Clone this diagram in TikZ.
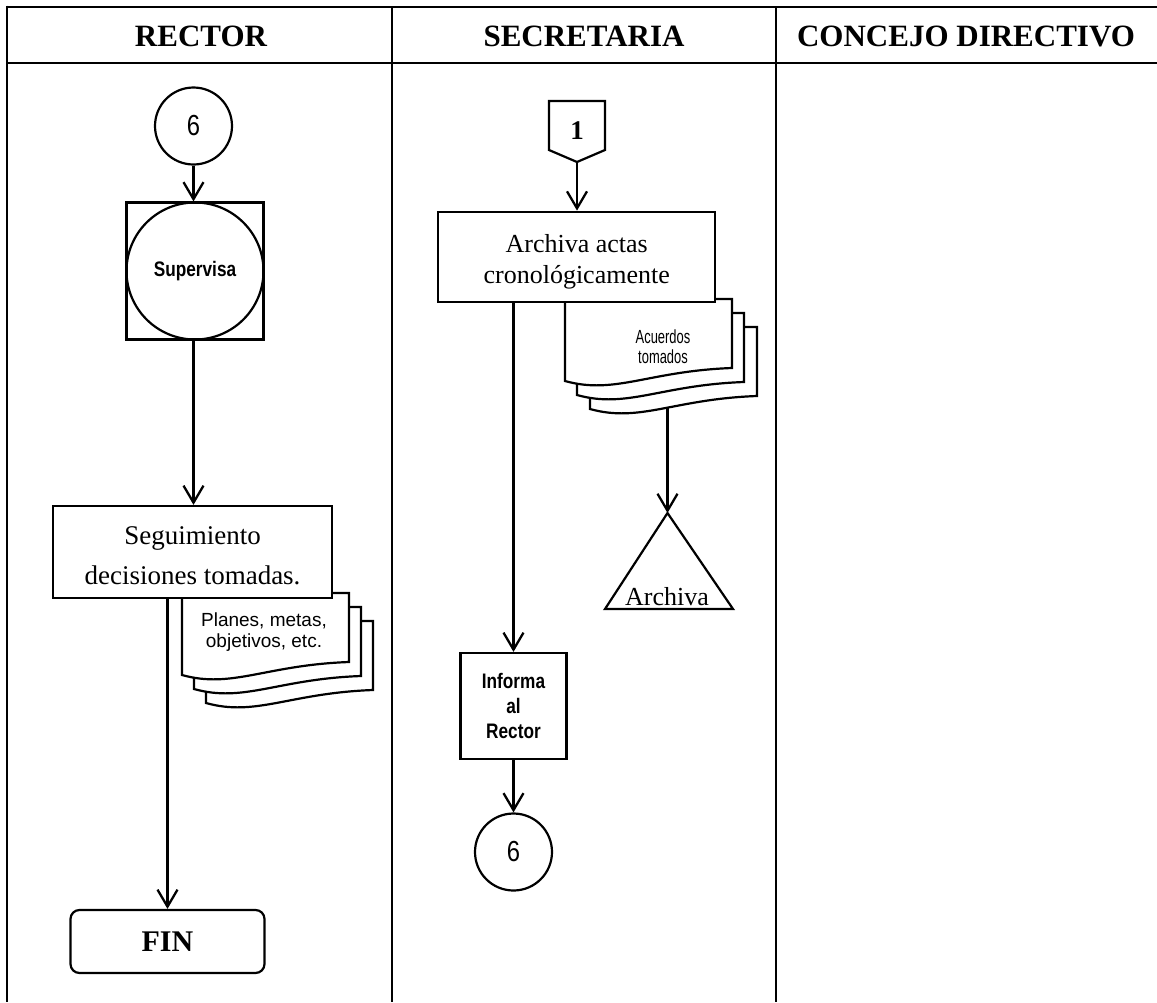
\documentclass[tikz,border=0pt]{standalone}
\usepackage{fontspec}
\setmainfont{Liberation Serif}
\newfontfamily\arial{Liberation Sans}
\newfontfamily\arialn[FakeStretch=0.82]{Liberation Sans}
\newfontfamily\arialnn[FakeStretch=0.68]{Liberation Sans}
\usetikzlibrary{arrows.meta}
\tikzset{
  tbl/.style={line width=2.8pt},
  hdr/.style={font=\fontsize{31}{36}\selectfont\bfseries, inner sep=0pt},
  conn/.style={line width=2.3pt, -{Straight Barb[length=17pt,width=20pt]}},
  box/.style={draw, line width=2.2pt, fill=white, inner sep=0pt, align=center},
  circ/.style={draw, circle, line width=2.2pt, fill=white, inner sep=0pt, minimum size=77pt,
    font=\arialn\fontsize{29}{30}\selectfont},
  docst/.style={draw, line width=2.2pt, fill=white},
  lbl/.style={inner sep=0pt, align=center},
}
\newcommand\docshape[2]{%
  \draw[docst] (#1,#2) -- ++(167,0) -- ++(0,69)
    .. controls ({#1+83.5},{#2+72}) and ({#1+50},{#2+96}) .. ({#1},{#2+82}) -- cycle;}
\begin{document}
\begin{tikzpicture}[x=1pt,y=-1pt]
\useasboundingbox (0,0) rectangle (1157,1002);
% table
\draw[tbl] (7,7) -- (1157,7);
\draw[tbl] (7,63) -- (1157,63);
\draw[tbl] (7,5.6) -- (7,1002);
\draw[tbl] (392,7) -- (392,1002);
\draw[line width=2.4pt] (776,7) -- (776,1002);
\node[hdr] (hR) at (201,36) {RECTOR};
\node[hdr] (hS) at (584,36) {SECRETARIA};
\node[hdr] (hC) at (966,36) {CONCEJO DIRECTIVO};

% ---------- RECTOR column
\node[circ] (c6a) at (193.5,126) {6};
\node[box, minimum width=137pt, minimum height=137pt] (sup) at (195,271) {};
\draw[line width=2.2pt] (sup.center) circle (68.5);
\node[lbl, font=\arialn\bfseries\fontsize{21}{25}\selectfont] at (sup.center) {Supervisa};
\draw[conn] (c6a.south) -- (c6a.south |- sup.north);

% documents behind Seguimiento
\docshape{206}{621}
\docshape{194}{607}
\docshape{182}{593}
\node[lbl, font=\arial\fontsize{19}{21}\selectfont] (docR) at (264,632) {Planes, metas,\\objetivos, etc.};
\node[box, minimum width=279pt, minimum height=92pt] (seg) at (192.5,552) {};
\node[lbl, font=\fontsize{27}{40}\selectfont] (segT) at (192.5,556) {Seguimiento\\decisiones tomadas.};
\draw[conn] (sup.south -| c6a.south) -- (c6a.south |- seg.north);

\node[box, rounded corners=9pt, minimum width=194pt, minimum height=63pt,
  font=\fontsize{30}{36}\selectfont\bfseries] (fin) at (167.5,941.5) {FIN};
\draw[conn] (seg.south -| fin.north) -- (fin.north);

% ---------- SECRETARIA column
\draw[box] (549,101) -- (605,101) -- (605,150) -- (577,162) -- (549,150) -- cycle;
\coordinate (off1) at (577,162);
\node[lbl, font=\fontsize{27}{30}\selectfont\bfseries] (one) at (577,131) {1};

% triangle
\coordinate (tri) at (667.5,513);
\draw[line width=2.2pt, fill=white] (tri) -- (733,609) -- (605,609) -- cycle;
\node[lbl, font=\fontsize{26}{29}\selectfont, anchor=base] (triT) at (667,605) {Archiva};
\coordinate (docS) at (667.5,350);
\draw[conn] (docS) -- (tri);

\docshape{590}{327}
\docshape{577}{313}
\docshape{565}{299}
\node[lbl, font=\arialnn\fontsize{19}{20}\selectfont] (docA) at (663,347) {Acuerdos\\tomados};
\node[box, minimum width=277pt, minimum height=90pt] (arch) at (576.7,256.7) {};
\node[lbl, font=\fontsize{26}{31}\selectfont] (archT) at (576.7,262) {Archiva actas\\cronológicamente};
\draw[conn] (off1) -- (off1 |- arch.north);

\node[box, minimum width=106pt, minimum height=106pt, font=\arialn\bfseries\fontsize{21}{25}\selectfont] (inf) at (513.5,706) {Informa\\al\\Rector};
\draw[conn] (arch.south -| inf.north) -- (inf.north);
\node[circ] (c6b) at (513.5,852) {6};
\draw[conn] (inf.south) -- (c6b.north);
\end{tikzpicture}
\end{document}
